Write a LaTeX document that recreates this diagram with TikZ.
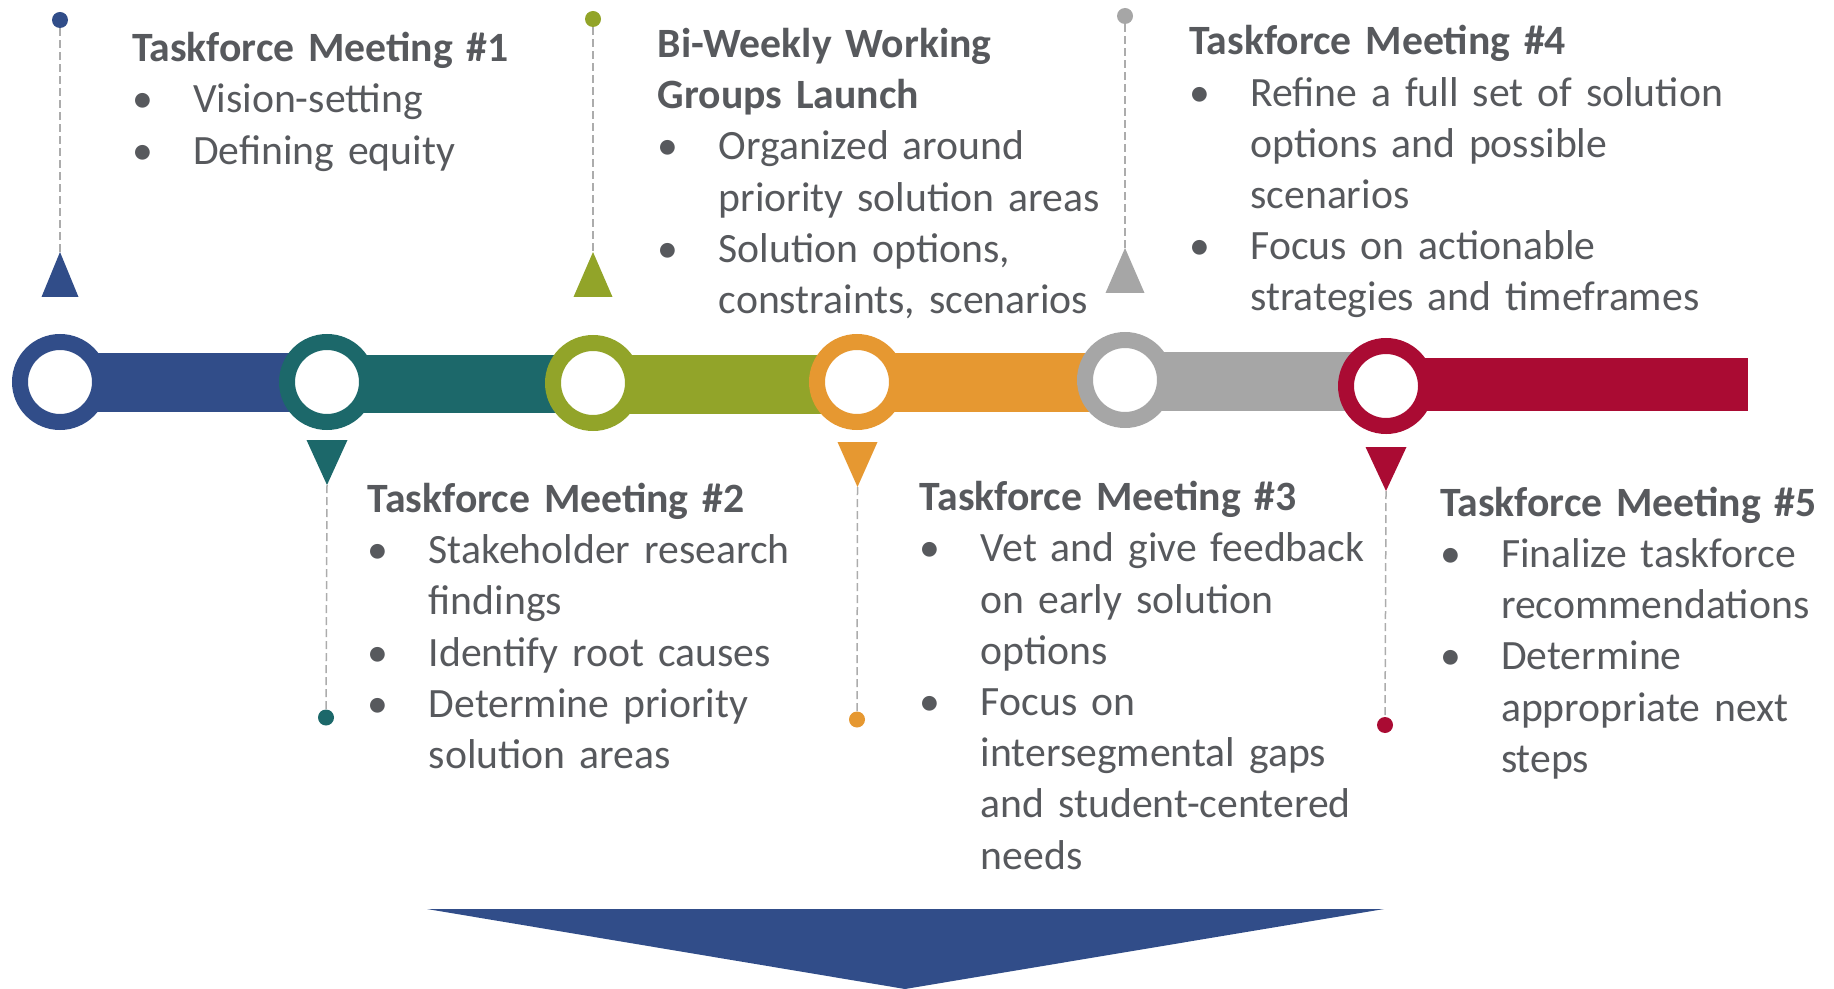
\documentclass[tikz,border=0pt]{standalone}
\usepackage{fontspec}
\setmainfont{Carlito}
\usepackage{xcolor}
\usepackage{tikz}

\definecolor{tfblue}{RGB}{49,77,137}
\definecolor{tfteal}{RGB}{28,104,106}
\definecolor{tfgreen}{RGB}{146,164,41}
\definecolor{tforange}{RGB}{230,152,49}
\definecolor{tfgrey}{RGB}{166,166,166}
\definecolor{tfred}{RGB}{170,11,51}
\definecolor{tftext}{RGB}{87,89,93}
\definecolor{tfdash}{RGB}{172,172,172}

\newcommand{\bul}{\makebox[30.5pt][l]{•}}
\newcommand{\ind}{\hspace*{30.5pt}}

\tikzset{
  ring/.style={circle, draw=#1, line width=8pt, fill=white, minimum size=40pt, inner sep=0pt},
  dot/.style={circle, fill=#1, minimum size=8pt, inner sep=0pt},
  leader/.style={tfdash, line width=0.75pt, dash pattern=on 4pt off 2pt},
  note/.style={anchor=base west, inner sep=0pt, text=tftext, text width=300pt, align=left,
    font=\fontsize{20.85}{25.6}\selectfont},
}

\begin{document}
\begin{tikzpicture}[x=0.5pt,y=-0.5pt]
    \useasboundingbox (0,0) rectangle (1834,989);

    % Timeline bars
    \fill[tfblue] (60,353) rectangle (327,412);
    \fill[tfteal] (327,355) rectangle (593,413);
    \fill[tfgreen] (593,355) rectangle (857,414);
    \fill[tforange] (857,353) rectangle (1125,412);
    \fill[tfgrey] (1125,352) rectangle (1386,411);
    \fill[tfred] (1386,358) rectangle (1748,411);

    % Rings
    \node[ring=tfblue] (r1) at (60,382) {};
    \node[ring=tfteal] (r2) at (327,382) {};
    \node[ring=tfgreen] (r3) at (593,383) {};
    \node[ring=tforange] (r4) at (857,382) {};
    \node[ring=tfgrey] (r5) at (1125,380) {};
    \node[ring=tfred] (r6) at (1386,386) {};

    % TOP MARKERS
    % Meeting #1
    \fill[tfblue] (41.5,297) -- (60,252) -- (78.5,297) -- cycle;
    \coordinate (a1) at (60,252);
    \node[dot=tfblue] (d1) at (60,20) {};
    \draw[leader] (d1) -- (a1);
    \node[note] (n1) at (131.7,61.7) {\textbf{Taskforce Meeting \#1}\\
      \bul Vision-setting\\
      \bul Defining equity};

    % Working groups
    \fill[tfgreen] (573.5,297) -- (593,252) -- (612.5,297) -- cycle;
    \coordinate (a3) at (593,252);
    \node[dot=tfgreen] (d3) at (593,19) {};
    \draw[leader] (d3) -- (a3);
    \node[note] (n3) at (657.4,57.5) {\textbf{Bi-Weekly Working}\\
      \textbf{Groups Launch}\\
      \bul Organized around\\
      \ind priority solution areas\\
      \bul Solution options,\\
      \ind constraints, scenarios};

    % Meeting #4
    \fill[tfgrey] (1105.5,293) -- (1125,248) -- (1144.5,293) -- cycle;
    \coordinate (a5) at (1125,248);
    \node[dot=tfgrey] (d5) at (1125,16) {};
    \draw[leader] (d5) -- (a5);
    \node[note] (n5) at (1189,55) {\textbf{Taskforce Meeting \#4}\\
      \bul Refine a full set of solution\\
      \ind options and possible\\
      \ind scenarios\\
      \bul Focus on actionable\\
      \ind strategies and timeframes};

    % BOTTOM MARKERS
    % Meeting #2
    \fill[tfteal] (306.5,440) -- (347.5,440) -- (327,485) -- cycle;
    \coordinate (a2) at (327,485);
    \node[dot=tfteal] (d2) at (326,717.5) {};
    \draw[leader] (a2) -- (d2);
    \node[note] (n2) at (367.4,512.5) {\textbf{Taskforce Meeting \#2}\\
      \bul Stakeholder research\\
      \ind findings\\
      \bul Identify root causes\\
      \bul Determine priority\\
      \ind solution areas};

    % Meeting #3
    \fill[tforange] (837.5,442) -- (877.5,442) -- (857.5,487) -- cycle;
    \coordinate (a4) at (857.5,487);
    \node[dot=tforange] (d4) at (857,719.5) {};
    \draw[leader] (a4) -- (d4);
    \node[note] (n4) at (919.5,510.7) {\textbf{Taskforce Meeting \#3}\\
      \bul Vet and give feedback\\
      \ind on early solution\\
      \ind options\\
      \bul Focus on\\
      \ind intersegmental gaps\\
      \ind and student-centered\\
      \ind needs};

    % Meeting #5
    \fill[tfred] (1365.5,447) -- (1406.5,447) -- (1386,491) -- cycle;
    \coordinate (a6) at (1386,491);
    \node[dot=tfred] (d6) at (1385,725) {};
    \draw[leader] (a6) -- (d6);
    \node[note] (n6) at (1439.7,516.2) {\textbf{Taskforce Meeting \#5}\\
      \bul Finalize taskforce\\
      \ind recommendations\\
      \bul Determine\\
      \ind appropriate next\\
      \ind steps};

    % Big arrow
    \fill[tfblue] (427,909) -- (1384,909) -- (905,989) -- cycle;

\end{tikzpicture}
\end{document}
